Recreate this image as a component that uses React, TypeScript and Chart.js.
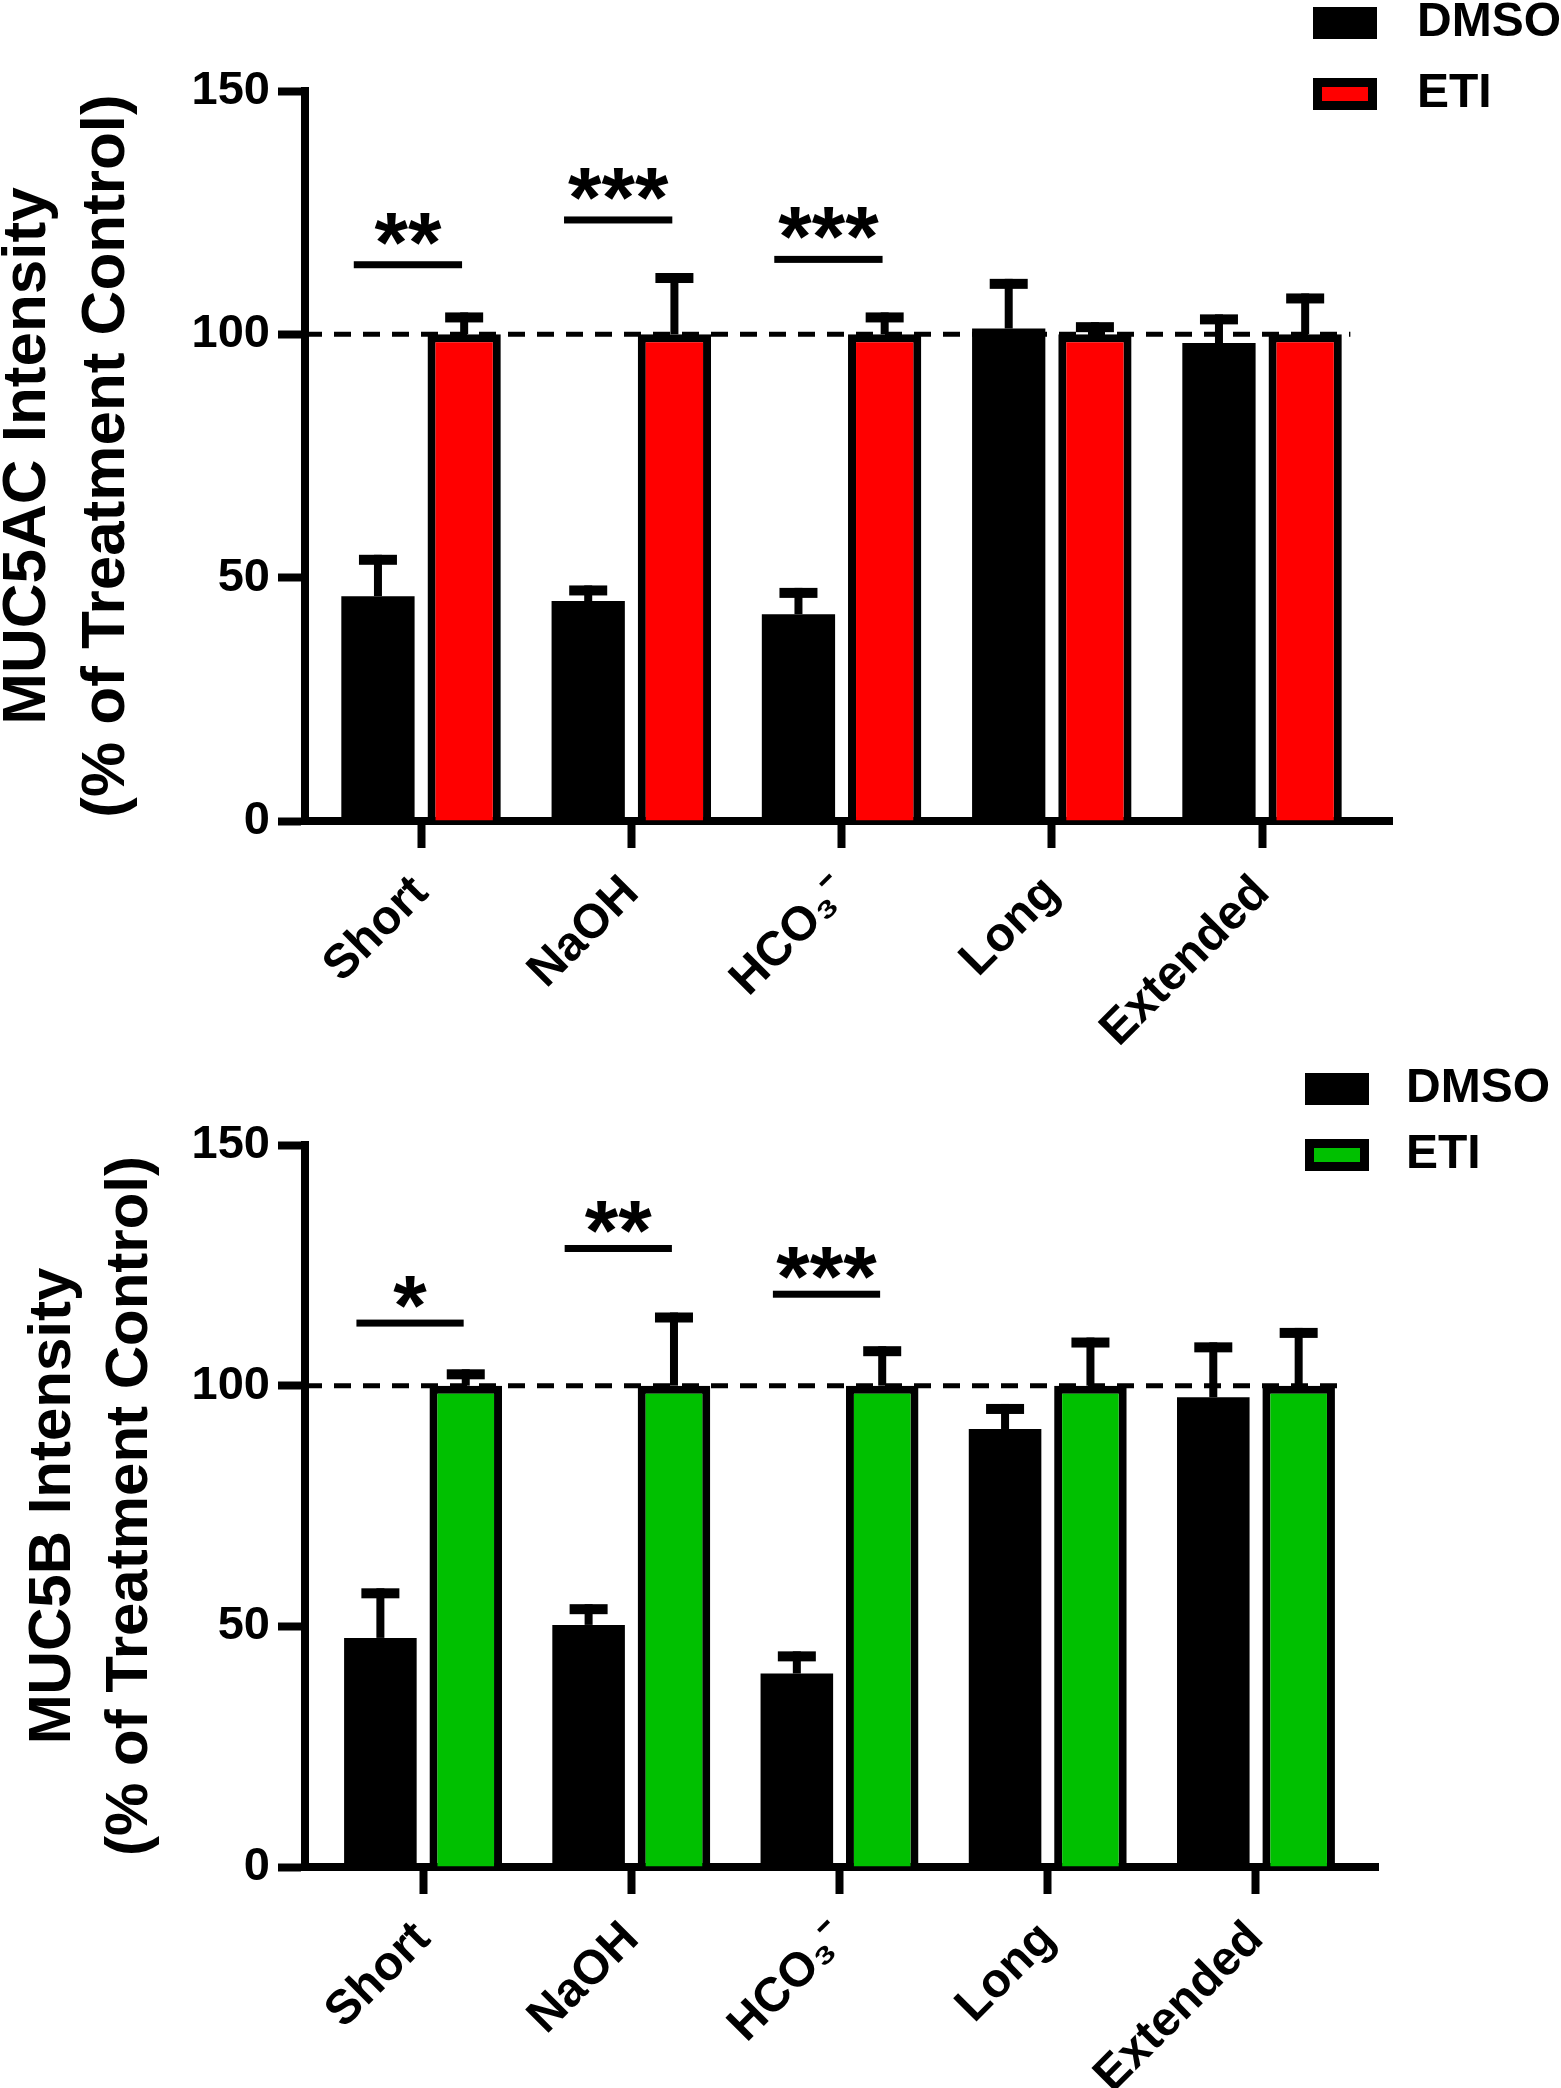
import React, { useEffect, useRef } from 'react';
import { Chart, registerables } from 'chart.js';

Chart.register(...registerables);
Chart.defaults.font.family = '"Liberation Sans", Arial, Helvetica, sans-serif';
Chart.defaults.color = '#000';

// ---------- data ----------
const CATEGORIES = ['Short', 'NaOH', 'HCO₃⁻', 'Long', 'Extended'];
const SERIES = ['DMSO', 'ETI'];
const Y_TICKS = [0, 50, 100, 150];
const REFERENCE_LEVEL = 100;

// MUC5AC panel
const MUC5AC_DMSO = [46.2, 45.2, 42.5, 101.2, 98.2];
const MUC5AC_DMSO_ERR = [8.5, 3.2, 5.4, 10.2, 5.9];
const MUC5AC_ETI = [100, 100, 100, 100, 100];
const MUC5AC_ETI_ERR = [4.5, 12.6, 4.5, 2.5, 8.4];
const MUC5AC_SIG = ['**', '***', '***', '', ''];
const MUC5AC_SIG_Y = [114.3, 123.5, 115.4, 0, 0];

// MUC5B panel
const MUC5B_DMSO = [47.6, 50.3, 40.2, 91.0, 97.6];
const MUC5B_DMSO_ERR = [10.3, 4.3, 4.6, 5.2, 11.4];
const MUC5B_ETI = [100, 100, 100, 100, 100];
const MUC5B_ETI_ERR = [3.4, 15.2, 8.2, 10.0, 12.0];
const MUC5B_SIG = ['*', '**', '***', '', ''];
const MUC5B_SIG_Y = [113, 128.5, 119, 0, 0];

const FONT = '"Liberation Sans", Arial, Helvetica, sans-serif';

type PanelCfg = {
  canvasTop: number;
  height: number;
  areaTop: number;
  areaBottom: number;
  areaRight: number;
  xMin: number;
  xMax: number;
  title: string[];
  titleSize: number;
  titlePad: number;
  color: string;
  dmso: number[];
  dmsoErr: number[];
  eti: number[];
  etiErr: number[];
  sig: string[];
  sigY: number[];
  starOffset: number;
  legendBoxX: number;
  legendTextX: number;
  legendRows: number[];
};

const PANELS: PanelCfg[] = [
  {
    canvasTop: 0,
    height: 1060,
    areaTop: 91,
    areaBottom: 821,
    areaRight: 1392,
    xMin: -0.552,
    xMax: 4.618,
    title: ['MUC5AC Intensity', '(% of Treatment Control)'],
    titleSize: 62,
    titlePad: -12,
    color: '#ff0000',
    dmso: MUC5AC_DMSO,
    dmsoErr: MUC5AC_DMSO_ERR,
    eti: MUC5AC_ETI,
    etiErr: MUC5AC_ETI_ERR,
    sig: MUC5AC_SIG,
    sigY: MUC5AC_SIG_Y,
    starOffset: 36,
    legendBoxX: 1313,
    legendTextX: 1417,
    legendRows: [23, 94],
  },
  {
    canvasTop: 1044,
    height: 1044,
    areaTop: 101,
    areaBottom: 823,
    areaRight: 1378,
    xMin: -0.567,
    xMax: 4.586,
    title: ['MUC5B Intensity', '(% of Treatment Control)'],
    titleSize: 60,
    titlePad: 15,
    color: '#00c000',
    dmso: MUC5B_DMSO,
    dmsoErr: MUC5B_DMSO_ERR,
    eti: MUC5B_ETI,
    etiErr: MUC5B_ETI_ERR,
    sig: MUC5B_SIG,
    sigY: MUC5B_SIG_Y,
    starOffset: 31,
    legendBoxX: 1305,
    legendTextX: 1406,
    legendRows: [45, 111],
  },
];

function Panel({ cfg, idx }: { cfg: PanelCfg; idx: number }) {
  const ref = useRef<HTMLCanvasElement>(null);

  useEffect(() => {
    const canvas = ref.current;
    if (!canvas) return;

    const decor = {
      id: 'decor' + idx,
      afterDatasetsDraw(chart: any) {
        const { ctx, chartArea } = chart;
        const x = chart.scales.x;
        const y = chart.scales.y;
        ctx.save();
        ctx.fillStyle = '#000';
        ctx.strokeStyle = '#000';

        // dashed reference line
        const yr = y.getPixelForValue(REFERENCE_LEVEL);
        ctx.setLineDash([17, 12]);
        ctx.lineWidth = 5;
        ctx.beginPath();
        ctx.moveTo(chartArea.left, yr);
        ctx.lineTo(x.getPixelForValue(CATEGORIES.length - 1 + 0.42), yr);
        ctx.stroke();
        ctx.setLineDash([]);

        // error bars (upper only)
        const sets = [
          [cfg.dmso, cfg.dmsoErr],
          [cfg.eti, cfg.etiErr],
        ];
        sets.forEach(([vals, errs], d) => {
          const meta = chart.getDatasetMeta(d);
          meta.data.forEach((bar: any, i: number) => {
            const cx = bar.x;
            const y0 = y.getPixelForValue(vals[i]);
            const y1 = y.getPixelForValue(vals[i] + errs[i]);
            ctx.fillRect(cx - 4, y1, 8, y0 - y1);
            ctx.fillRect(cx - 19, y1, 38, 10);
          });
        });

        // significance brackets
        ctx.font = `bold 86px ${FONT}`;
        ctx.textAlign = 'center';
        ctx.textBaseline = 'alphabetic';
        cfg.sig.forEach((s, i) => {
          if (!s) return;
          const ly = y.getPixelForValue(cfg.sigY[i]);
          const x1 = x.getPixelForValue(i - 0.32);
          const x2 = x.getPixelForValue(i + 0.195);
          ctx.fillRect(x1, ly - 3.5, x2 - x1, 7);
          const m = ctx.measureText(s);
          const cy = ly - cfg.starOffset;
          const base = cy + (m.actualBoundingBoxAscent - m.actualBoundingBoxDescent) / 2;
          ctx.fillText(s, (x1 + x2) / 2, base);
        });
        ctx.restore();
      },
      afterDraw(chart: any) {
        const { ctx } = chart;
        ctx.save();
        ctx.font = `bold 48px ${FONT}`;
        ctx.textAlign = 'left';
        ctx.textBaseline = 'middle';
        chart.data.datasets.forEach((ds: any, d: number) => {
          const cy = cfg.legendRows[d];
          const bx = cfg.legendBoxX;
          ctx.fillStyle = '#000';
          ctx.fillRect(bx, cy - 16, 64, 32);
          if (ds.borderWidth > 0) {
            ctx.fillStyle = ds.backgroundColor;
            ctx.fillRect(bx + 9, cy - 7, 46, 14);
          }
          ctx.fillStyle = '#000';
          ctx.fillText(ds.label, cfg.legendTextX, cy);
        });
        ctx.restore();
      },
    };

    const gridOpts = {
      display: true,
      offset: false,
      drawOnChartArea: false,
      drawTicks: true,
      tickLength: 27,
      tickWidth: 8,
      tickColor: '#000',
      color: '#000',
    };
    const borderOpts = { display: true, width: 8, color: '#000' };

    const chart = new Chart(canvas, {
      type: 'bar',
      data: {
        datasets: [
          {
            label: SERIES[0],
            data: cfg.dmso.map((v, i) => ({ x: i, y: v })),
            backgroundColor: '#000',
            borderWidth: 0,
            categoryPercentage: 0.82,
            barPercentage: 0.85,
          },
          {
            label: SERIES[1],
            data: cfg.eti.map((v, i) => ({ x: i, y: v })),
            backgroundColor: cfg.color,
            borderColor: '#000',
            borderWidth: 8,
            borderSkipped: 'start',
            categoryPercentage: 0.82,
            barPercentage: 0.85,
          },
        ],
      } as any,
      options: {
        responsive: false,
        animation: false,
        devicePixelRatio: 1,
        layout: {
          padding: { top: cfg.areaTop, left: 0, right: 1561 - cfg.areaRight, bottom: 0 },
        },
        plugins: {
          legend: { display: false },
          tooltip: { enabled: false },
        },
        scales: {
          x: {
            type: 'linear',
            offset: false,
            bounds: 'data',
            min: cfg.xMin,
            max: cfg.xMax,
            z: 1,
            afterBuildTicks: (s: any) => {
              s.ticks = CATEGORIES.map((_, i) => ({ value: i }));
            },
            afterFit: (s: any) => {
              s.height = cfg.height - cfg.areaBottom;
            },
            grid: gridOpts,
            border: borderOpts,
            ticks: {
              autoSkip: false,
              maxRotation: 45,
              minRotation: 45,
              padding: 17,
              color: '#000',
              font: { size: 48, weight: 'bold' },
              callback: (v: any) => CATEGORIES[v] ?? '',
            },
          },
          y: {
            type: 'linear',
            min: 0,
            max: 150,
            z: 1,
            afterBuildTicks: (s: any) => {
              s.ticks = Y_TICKS.map((v) => ({ value: v }));
            },
            afterFit: (s: any) => {
              s.width = 305;
            },
            grid: gridOpts,
            border: borderOpts,
            ticks: {
              padding: 8,
              color: '#000',
              font: { size: 47, weight: 'bold' },
            },
            title: {
              display: true,
              text: cfg.title,
              color: '#000',
              font: { size: cfg.titleSize, weight: 'bold', lineHeight: 1.28 },
              padding: { top: cfg.titlePad, bottom: 0 },
            },
          },
        },
      } as any,
      plugins: [decor],
    });

    return () => chart.destroy();
  }, [cfg, idx]);

  return (
    <canvas
      ref={ref}
      width={1561}
      height={cfg.height}
      style={{ position: 'absolute', left: 0, top: cfg.canvasTop, width: 1561, height: cfg.height }}
    />
  );
}

export default function App() {
  useEffect(() => {
    document.body.style.margin = '0';
  }, []);
  return (
    <div
      style={{
        position: 'absolute',
        left: 0,
        top: 0,
        width: 1561,
        height: 2088,
        overflow: 'hidden',
        background: '#fff',
      }}
    >
      {PANELS.map((p, i) => (
        <Panel key={i} cfg={p} idx={i} />
      ))}
    </div>
  );
}
